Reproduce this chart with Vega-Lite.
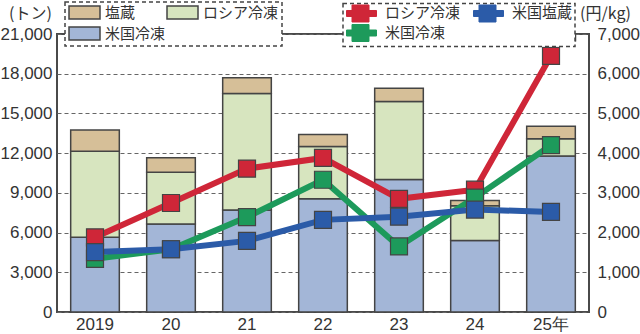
{
  "$schema": "https://vega.github.io/schema/vega-lite/v6.json",
  "width": 532,
  "height": 278,
  "autosize": {"type": "none"},
  "padding": {"left": 57, "top": 34, "right": 51, "bottom": 22},
  "background": "white",
  "config": {
    "view": {"stroke": "#4a4a4a", "strokeWidth": 2},
    "font": "Liberation Sans",
    "axis": {
      "labelFont": "Liberation Sans",
      "labelFontSize": 17,
      "labelColor": "#333333",
      "titleFont": "Noto Sans CJK JP",
      "titleFontSize": 16,
      "titleColor": "#333333",
      "titleFontWeight": "normal",
      "domain": false,
      "ticks": false
    },
    "legend": {
      "labelFont": "Noto Sans CJK JP",
      "labelFontSize": 15,
      "labelColor": "#333333",
      "fillColor": "white",
      "strokeColor": "#444444",
      "symbolStrokeColor": "#444444",
      "symbolStrokeWidth": 1.5,
      "symbolOpacity": 1,
      "direction": "horizontal",
      "columns": 2,
      "rowPadding": 2,
      "padding": 3,
      "title": null
    }
  },
  "datasets": {
    "bars": [
      {"year": "2019", "item": "米国冷凍", "tons": 5650, "ord": 1},
      {"year": "2019", "item": "ロシア冷凍", "tons": 6500, "ord": 2},
      {"year": "2019", "item": "塩蔵", "tons": 1600, "ord": 3},
      {"year": "20", "item": "米国冷凍", "tons": 6650, "ord": 1},
      {"year": "20", "item": "ロシア冷凍", "tons": 3900, "ord": 2},
      {"year": "20", "item": "塩蔵", "tons": 1100, "ord": 3},
      {"year": "21", "item": "米国冷凍", "tons": 7700, "ord": 1},
      {"year": "21", "item": "ロシア冷凍", "tons": 8800, "ord": 2},
      {"year": "21", "item": "塩蔵", "tons": 1200, "ord": 3},
      {"year": "22", "item": "米国冷凍", "tons": 8550, "ord": 1},
      {"year": "22", "item": "ロシア冷凍", "tons": 3950, "ord": 2},
      {"year": "22", "item": "塩蔵", "tons": 900, "ord": 3},
      {"year": "23", "item": "米国冷凍", "tons": 10000, "ord": 1},
      {"year": "23", "item": "ロシア冷凍", "tons": 5900, "ord": 2},
      {"year": "23", "item": "塩蔵", "tons": 1000, "ord": 3},
      {"year": "24", "item": "米国冷凍", "tons": 5400, "ord": 1},
      {"year": "24", "item": "ロシア冷凍", "tons": 2630, "ord": 2},
      {"year": "24", "item": "塩蔵", "tons": 400, "ord": 3},
      {"year": "25年", "item": "米国冷凍", "tons": 11780, "ord": 1},
      {"year": "25年", "item": "ロシア冷凍", "tons": 1300, "ord": 2},
      {"year": "25年", "item": "塩蔵", "tons": 950, "ord": 3}
    ],
    "prices": [
      {"year": "2019", "series": "ロシア冷凍", "price": 1880},
      {"year": "20", "series": "ロシア冷凍", "price": 2745},
      {"year": "21", "series": "ロシア冷凍", "price": 3610},
      {"year": "22", "series": "ロシア冷凍", "price": 3880},
      {"year": "23", "series": "ロシア冷凍", "price": 2850},
      {"year": "24", "series": "ロシア冷凍", "price": 3080},
      {"year": "25年", "series": "ロシア冷凍", "price": 6450},
      {"year": "2019", "series": "米国冷凍", "price": 1340},
      {"year": "20", "series": "米国冷凍", "price": 1580},
      {"year": "21", "series": "米国冷凍", "price": 2390},
      {"year": "22", "series": "米国冷凍", "price": 3330},
      {"year": "23", "series": "米国冷凍", "price": 1650},
      {"year": "24", "series": "米国冷凍", "price": 2880},
      {"year": "25年", "series": "米国冷凍", "price": 4200},
      {"year": "2019", "series": "米国塩蔵", "price": 1510},
      {"year": "20", "series": "米国塩蔵", "price": 1580},
      {"year": "21", "series": "米国塩蔵", "price": 1790},
      {"year": "22", "series": "米国塩蔵", "price": 2320},
      {"year": "23", "series": "米国塩蔵", "price": 2400},
      {"year": "24", "series": "米国塩蔵", "price": 2580},
      {"year": "25年", "series": "米国塩蔵", "price": 2520}
    ]
  },
  "layer": [
    {
      "data": {"name": "bars"},
      "mark": {"type": "bar", "stroke": "#444444", "strokeWidth": 1.5},
      "encoding": {
        "x": {
          "field": "year", "type": "nominal", "sort": null,
          "scale": {"paddingInner": 0.36, "paddingOuter": 0.18},
          "axis": {"title": null, "labelAngle": 0, "ticks": false, "labelPadding": 4, "grid": false}
        },
        "y": {
          "field": "tons", "type": "quantitative", "stack": "zero",
          "scale": {"domain": [0, 21000], "nice": false},
          "axis": {
            "title": "(トン)", "values": [0, 3000, 6000, 9000, 12000, 15000, 18000, 21000], "format": ",d",
            "grid": true, "gridDash": [4, 3], "gridColor": "#666666", "gridWidth": 1, "labelPadding": 5,
            "titleAngle": 0, "titleX": -27, "titleY": -21, "titleAlign": "center", "titleBaseline": "middle"
          }
        },
        "color": {
          "field": "item", "type": "nominal",
          "scale": {"domain": ["塩蔵", "ロシア冷凍", "米国冷凍"], "range": ["#d6bf98", "#d7e5bf", "#a3b6d7"]},
          "legend": {
            "orient": "none", "legendX": 8, "legendY": -32, "direction": "horizontal", "columns": 2,
            "symbolType": "M-1,-1H3.77V1H-1Z", "symbolSize": 169, "labelOffset": 22, "columnPadding": -40, "rowPadding": 2,
            "encode": {"legend": {"update": {"strokeDash": {"value": [4, 3]}, "strokeWidth": {"value": 1.5}}}}
          }
        },
        "order": {"field": "ord", "type": "quantitative"}
      }
    },
    {
      "data": {"name": "prices"},
      "encoding": {
        "x": {"field": "year", "type": "nominal", "sort": null,
          "axis": {"title": null, "labels": false, "ticks": true, "tickBand": "extent", "tickSize": 7, "tickColor": "#444444", "tickWidth": 1.5, "offset": -7, "grid": false, "domain": false}},
        "y": {
          "field": "price", "type": "quantitative",
          "scale": {"domain": [0, 7000], "nice": false},
          "axis": {
            "orient": "right", "title": "(円/kg)", "values": [0, 1000, 2000, 3000, 4000, 5000, 6000, 7000], "format": ",d",
            "grid": false, "labelPadding": 8,
            "titleAngle": 0, "titleX": 16, "titleY": -21, "titleAlign": "center", "titleBaseline": "middle"
          }
        },
        "color": {"field": "series", "type": "nominal",
          "scale": {"domain": ["ロシア冷凍", "米国塩蔵", "米国冷凍"], "range": ["#cf2638", "#2b5ba8", "#1d9a5b"]},
          "legend": {
            "orient": "none", "legendX": 286, "legendY": -30.5, "direction": "horizontal", "columns": 2, "padding": 2,
            "symbolType": "M-1,-0.5H-0.083V-1.417H2.75V-0.5H4V0.5H2.75V1.417H-0.083V0.5H-1Z",
            "symbolSize": 144, "symbolStrokeWidth": 1, "labelOffset": 25, "columnPadding": 10, "rowPadding": -3,
            "encode": {"legend": {"update": {"strokeDash": {"value": [4, 3]}, "strokeWidth": {"value": 1.5}}}}
          }
        }
      },
      "layer": [
        {
          "mark": {"type": "line", "strokeWidth": 6}
        },
        {
          "mark": {"type": "point", "shape": "square", "filled": true, "size": 289, "opacity": 1, "stroke": "#444444", "strokeWidth": 1.2}
        }
      ]
    }
  ],
  "resolve": {"scale": {"y": "independent", "color": "independent"}, "axis": {"x": "independent"}}
}
